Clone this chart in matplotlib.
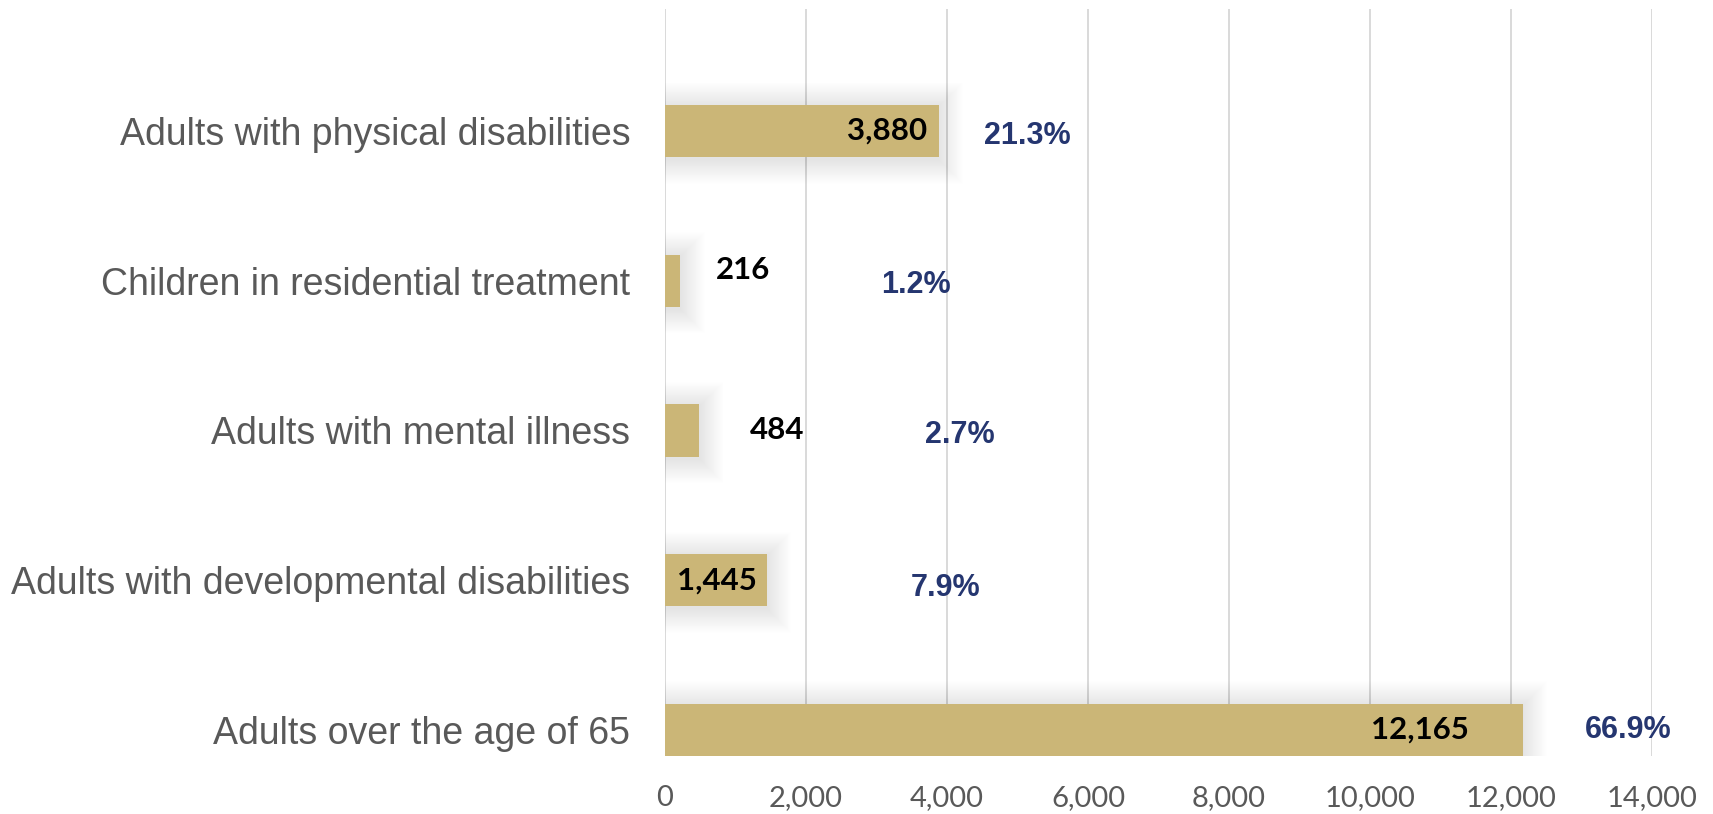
import matplotlib
matplotlib.use("Agg")
import matplotlib.pyplot as plt
from matplotlib.patches import Rectangle
from matplotlib.ticker import FuncFormatter

# ---- data (bottom to top) ----
categories = ["Adults over the age of 65",
              "Adults with developmental disabilities",
              "Adults with mental illness",
              "Children in residential treatment",
              "Adults with physical disabilities"]
values = [12165, 1445, 484, 216, 3880]
x_ticks = [0, 2000, 4000, 6000, 8000, 10000, 12000, 14000]

# ---- layout for annotation text (data units) ----
value_label_x = [10709, 738, 1589, 1106, 3149]
value_label_dy = [0.0, 0.0, 0.0, 0.07, 0.0]
pct_label_x = [13660, 3986, 4184, 3560, 5135]
pct_label_dy = [0.0, -0.05, -0.03, -0.03, -0.035]

BAR_COLOR = "#CBB677"
GRAY = "#595959"
NAVY = "#253670"
GRID = "#D9D9D9"

W, H = 1713, 814
fig = plt.figure(figsize=(W / 100, H / 100), dpi=100)
ax = fig.add_axes([665 / W, 1 - 756 / H, (1652 - 665) / W, (756 - 9) / H])

ypos = list(range(len(categories)))
bar_h = 0.35
bars = ax.barh(ypos, values, height=bar_h, color=BAR_COLOR, zorder=3)

ax.set_xlim(0, 14000)
ax.set_ylim(-0.174, 4.815)

# soft shadow behind bars
px_x = 14000 / (1652 - 665)
px_y = 1 / 149.7
for b in bars:
    x0, y0 = b.get_x(), b.get_y()
    w, h = b.get_width(), b.get_height()
    for k in range(1, 28):
        padx = k * 0.9 * px_x
        pady = k * 0.9 * px_y
        r = Rectangle((x0, y0 - pady - 2 * px_y), w + padx, h + 2 * pady,
                      facecolor="black", edgecolor="none", alpha=0.0045, zorder=2)
        ax.add_patch(r)

total = sum(values)
for i, v in enumerate(values):
    ax.text(value_label_x[i], ypos[i] + value_label_dy[i], f"{v:,}",
            ha="center", va="center", fontsize=22.5, fontweight="bold",
            family=["Lato", "DejaVu Sans"], color="black", zorder=5)
    ax.text(pct_label_x[i], ypos[i] + pct_label_dy[i], f"{v / total * 100:.1f}%",
            ha="center", va="center", fontsize=22, fontweight="bold",
            family=["Liberation Sans", "DejaVu Sans"], color=NAVY, zorder=5)

ax.set_yticks(ypos)
ax.set_yticklabels(categories, fontsize=27, color=GRAY,
                   family=["Liberation Sans", "DejaVu Sans"])
ax.set_xticks(x_ticks)
ax.xaxis.set_major_formatter(FuncFormatter(lambda x, p: f"{x:,.0f}"))
for lab in ax.get_xticklabels():
    lab.set_family(["Lato", "DejaVu Sans"])
    lab.set_fontsize(21)
    lab.set_color(GRAY)
ax.tick_params(axis="y", length=0, pad=25)
ax.tick_params(axis="x", length=0, pad=21)

ax.xaxis.grid(True, color=GRID, linewidth=1.4, zorder=0)
ax.set_axisbelow(True)
for s in ax.spines.values():
    s.set_visible(False)

fig.savefig("out.png", dpi=100, facecolor="white")
